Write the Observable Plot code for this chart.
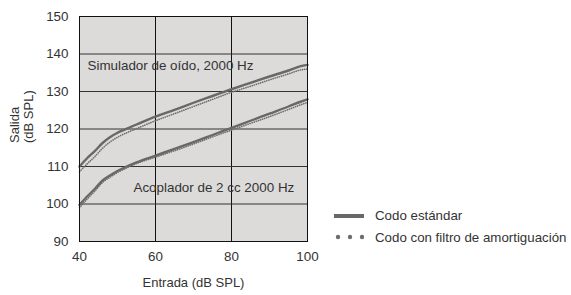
<!DOCTYPE html>
<html>
<head>
<meta charset="utf-8">
<script src="https://cdn.jsdelivr.net/npm/d3@7"></script>
<script src="https://cdn.jsdelivr.net/npm/@observablehq/plot@0.6"></script>
<style>
  html, body { margin: 0; padding: 0; background: #fff; }
  #wrap { position: relative; width: 571px; height: 295px; font-family: "Liberation Sans", Arial, sans-serif; }
  #legend { position: absolute; left: 333px; top: 205px; font-size: 13.3px; color: #333; line-height: 21.5px; }
  #legend div { display: flex; align-items: center; white-space: nowrap; }
  #legend svg { margin-right: 11px; }
</style>
</head>
<body>
<div id="wrap">
  <div id="chart"></div>
  <div id="legend"></div>
</div>
<script>
const entrada = [40, 42, 44, 46, 48, 50, 52, 55, 60, 65, 70, 75, 80, 85, 90, 95, 98, 100];
const simStd  = [110, 112.2, 114.1, 116.2, 117.8, 119, 119.9, 121.2, 123.3, 125.1, 127, 128.8, 130.6, 132.3, 134, 135.6, 136.7, 137.1];
const simFilt = [108.6, 110.7, 112.6, 114.8, 116.5, 117.8, 118.8, 120.1, 122.2, 124.1, 126, 127.9, 129.8, 131.4, 133.1, 134.7, 135.7, 136];
const acoStd  = [99.8, 102, 104, 106.2, 107.6, 108.8, 109.8, 111.1, 112.9, 114.7, 116.5, 118.4, 120.3, 122.2, 124.1, 126, 127.2, 127.9];
const acoFilt = [99, 101.3, 103.4, 105.7, 107.1, 108.4, 109.4, 110.8, 112.5, 114.2, 116, 117.9, 119.7, 121.5, 123.3, 125.2, 126.4, 127.1];
const xTicks = [40, 60, 80, 100];
const yTicks = [90, 100, 110, 120, 130, 140, 150];
const seriesNames = ["Codo estándar", "Codo con filtro de amortiguación"];
const curveLabels = [
  {x: 42.1, y: 137, text: "Simulador de oído, 2000 Hz"},
  {x: 54.2, y: 104.4, text: "Acoplador de 2 cc 2000 Hz"}
];
const xLabel = "Entrada (dB SPL)";
const yLabelLines = ["Salida", "(dB SPL)"];

const toRows = (vals) => entrada.map((x, i) => ({x, y: vals[i]}));

const lineColor = "#686868";
const dotColor = "#6e6e6e";

const chart = Plot.plot({
  width: 571,
  height: 295,
  marginLeft: 79,
  marginRight: 264,
  marginTop: 16,
  marginBottom: 54,
  style: {fontFamily: "'Liberation Sans', Arial, sans-serif", fontSize: "13.3px", color: "#333", background: "transparent"},
  x: {domain: [40, 100], ticks: xTicks, label: null},
  y: {domain: [90, 150], ticks: yTicks, label: null},
  marks: [
    Plot.frame({fill: "#dcdbda", stroke: null}),
    Plot.ruleX(xTicks.slice(1, -1), {stroke: "#111", strokeWidth: 1}),
    Plot.ruleY(yTicks.slice(1, -1), {stroke: "#333", strokeWidth: 1}),
    Plot.line(toRows(simFilt), {x: "x", y: "y", stroke: dotColor, strokeWidth: 1.6, strokeDasharray: "0.2 2", strokeLinecap: "round", curve: "monotone-x"}),
    Plot.line(toRows(acoFilt), {x: "x", y: "y", stroke: dotColor, strokeWidth: 1.6, strokeDasharray: "0.2 2", strokeLinecap: "round", curve: "monotone-x"}),
    Plot.line(toRows(simStd), {x: "x", y: "y", stroke: lineColor, strokeWidth: 2.4, curve: "monotone-x"}),
    Plot.line(toRows(acoStd), {x: "x", y: "y", stroke: lineColor, strokeWidth: 2.4, curve: "monotone-x"}),
    Plot.text(curveLabels, {x: "x", y: "y", text: "text", textAnchor: "start", fill: "#333", fontSize: 13.4}),
    Plot.frame({stroke: "#111", strokeWidth: 1}),
    Plot.axisX({ticks: xTicks, tickSize: 0, tickPadding: 10, label: null, fontSize: 13.4}),
    Plot.axisY({ticks: yTicks, tickSize: 0, tickPadding: 11, label: null, fontSize: 13.4}),
    Plot.text([xLabel], {frameAnchor: "bottom", dy: 45, text: d => d, fontSize: 13, fill: "#333"}),
    Plot.text([yLabelLines[0]], {frameAnchor: "left", dx: -65, dy: 14, text: d => d, rotate: -90, fontSize: 13, fill: "#333"}),
    Plot.text([yLabelLines[1]], {frameAnchor: "left", dx: -51, dy: 14, text: d => d, rotate: -90, fontSize: 13, fill: "#333"})
  ]
});
document.getElementById("chart").appendChild(chart);

const legend = document.getElementById("legend");
seriesNames.forEach((name, i) => {
  const row = document.createElement("div");
  const sw = i === 0
    ? `<svg width="31" height="8"><line x1="1" y1="4" x2="31" y2="4" stroke="${lineColor}" stroke-width="4"/></svg>`
    : `<svg width="31" height="8">${[5, 17, 29].map(cx => `<circle cx="${cx}" cy="4" r="2.2" fill="${dotColor}"/>`).join("")}</svg>`;
  row.innerHTML = sw + `<span>${name}</span>`;
  legend.appendChild(row);
});
</script>
</body>
</html>
